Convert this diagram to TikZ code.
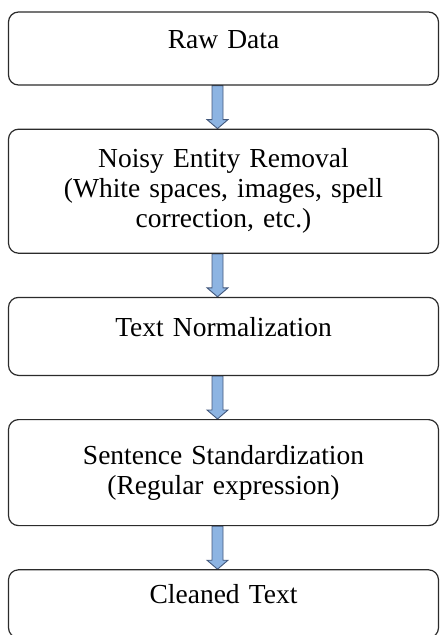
\documentclass[tikz,border=0pt]{standalone}
\usepackage{fontspec}
\setmainfont{Liberation Serif}
\usepackage{tikz}
\usetikzlibrary{positioning, backgrounds}
\usepackage{xcolor}
\definecolor{boxline}{HTML}{2B2B2B}
\definecolor{arrowfill}{HTML}{8DB4E2}
\definecolor{arrowline}{HTML}{44597C}

\begin{document}
\begin{tikzpicture}[node distance=43pt, font=\fontsize{27.5}{30}\selectfont]

  % styles
  \tikzstyle{stage} = [rectangle, rounded corners=10pt, minimum width=430pt, text width=400pt, inner xsep=15pt, inner ysep=0pt, align=center, draw=boxline, line width=1.2pt]
  \tikzstyle{oneline} = [text height=0.7em, text depth=0.7em]
  \tikzstyle{blockarrow} = [draw=arrowline, fill=arrowfill, line width=0.9pt, line join=miter]

  \useasboundingbox (0,0) rectangle (440pt,-635pt);

  % boxes
  \node (raw) [stage, oneline, minimum height=73pt] at (223.5pt,-48.5pt) {Raw Data};
  \node (noisy) [stage, minimum height=124pt, below=of raw] {Noisy Entity Removal\\(White spaces, images, spell\\correction, etc.)};
  \node (norm) [stage, oneline, minimum height=78pt, below=of noisy] {Text Normalization};
  \node (std) [stage, minimum height=106pt, below=of norm] {Sentence Standardization\\(Regular expression)};
  \node (clean) [stage, oneline, minimum height=68pt, below=of std] {Cleaned Text};

  % arrows
  \begin{scope}[on background layer]
    \foreach \a/\b in {raw/noisy, noisy/norm, norm/std, std/clean}
      \draw [blockarrow] ([xshift=-11.5pt]\a.south) -- ([xshift=-11.5pt,yshift=9pt]\b.north) -- ++(-5pt,0)
        -- ([xshift=-6pt]\b.north) -- ([xshift=4.5pt,yshift=9pt]\b.north) -- ++(-5pt,0)
        -- ([xshift=-0.5pt]\a.south) -- cycle;
  \end{scope}

\end{tikzpicture}
\end{document}
